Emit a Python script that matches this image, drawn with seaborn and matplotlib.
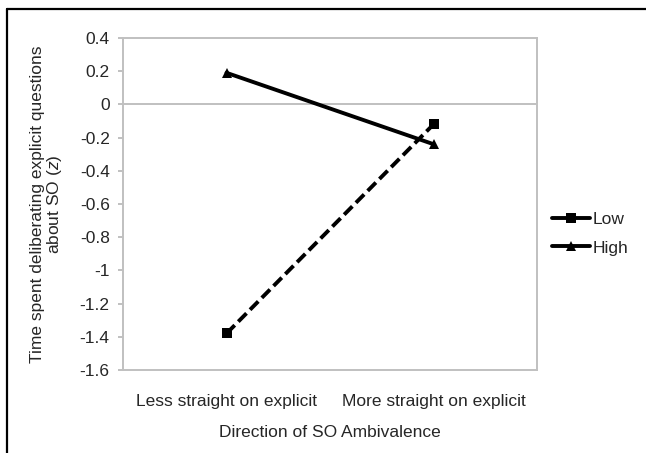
import pandas as pd
import matplotlib.pyplot as plt
import matplotlib.lines as mlines
import seaborn as sns

# ---------------------------------------------------------
# Data
# ---------------------------------------------------------

categories = ["Less straight on explicit", "More straight on explicit"]
groups = ["Low", "High"]
low_values = [-1.38, -0.12]
high_values = [0.19, -0.24]
y_ticks = [0.4, 0.2, 0, -0.2, -0.4, -0.6, -0.8, -1, -1.2, -1.4, -1.6]

df = pd.DataFrame({
    "pos": list(range(len(categories))) * 2,
    "value": low_values + high_values,
    "group": [groups[0]] * len(categories) + [groups[1]] * len(categories),
})

# ---------------------------------------------------------
# Style
# ---------------------------------------------------------

sns.set_theme(style="white")
plt.rcParams["font.family"] = ["Liberation Sans", "DejaVu Sans"]
plt.rcParams["mathtext.fontset"] = "custom"
plt.rcParams["mathtext.it"] = "Liberation Sans:italic"
plt.rcParams["mathtext.rm"] = "Liberation Sans"

FS = 12.5
GREY = "#c0c0c0"

fig = plt.figure(figsize=(6.46, 4.53), dpi=100)
ax = fig.add_axes([0.1904, 0.1832, 0.641, 0.733])

sns.lineplot(
    data=df, x="pos", y="value", hue="group", style="group",
    hue_order=groups, style_order=groups,
    palette=["black", "black"],
    markers={"Low": "s", "High": "^"},
    dashes={"Low": (3, 1.3), "High": ""},
    markersize=7.5, linewidth=2.8, markeredgewidth=0,
    ax=ax,
)

# zero line (category axis in the original crosses at 0)
ax.axhline(0, color=GREY, linewidth=1.4, zorder=0)

ax.set_xlim(-0.5, 1.5)
ax.set_ylim(-1.6, 0.4)
ax.set_yticks(y_ticks)
ax.set_yticklabels([f"{t:g}" for t in y_ticks])
ax.set_xticks(range(len(categories)))
ax.set_xticklabels(categories)

for s in ax.spines.values():
    s.set_color(GREY)
    s.set_linewidth(1.4)

ax.tick_params(axis="y", left=True, length=3.6, width=1.4, color=GREY,
               labelsize=FS, pad=6)
ax.tick_params(axis="x", bottom=False, labelsize=FS, pad=11)

ax.set_xlabel("Direction of SO Ambivalence", fontsize=FS, labelpad=12)
ax.set_ylabel("Time spent deliberating explicit questions\nabout SO ($\\mathit{z}$)",
              fontsize=FS, linespacing=1.0)
ax.yaxis.set_label_coords(-0.143, 0.5)

leg = ax.legend(loc="center left", bbox_to_anchor=(1.035, 0.41), frameon=False,
                fontsize=FS, handlelength=2.2, handletextpad=0.15,
                labelspacing=0.75, borderpad=0, borderaxespad=0)
# legend handle in the original reads as thick pieces either side of the marker
leg.get_lines()[0].set_linestyle("-")

# outer frame (only top and left edges are inside the picture)
fig.add_artist(mlines.Line2D([7 / 646, 1.0], [1 - 9 / 453, 1 - 9 / 453],
                             transform=fig.transFigure, color="black", linewidth=1.6))
fig.add_artist(mlines.Line2D([7 / 646, 7 / 646], [0, 1 - 9 / 453],
                             transform=fig.transFigure, color="black", linewidth=1.6))

fig.savefig("out.png", dpi=100)
